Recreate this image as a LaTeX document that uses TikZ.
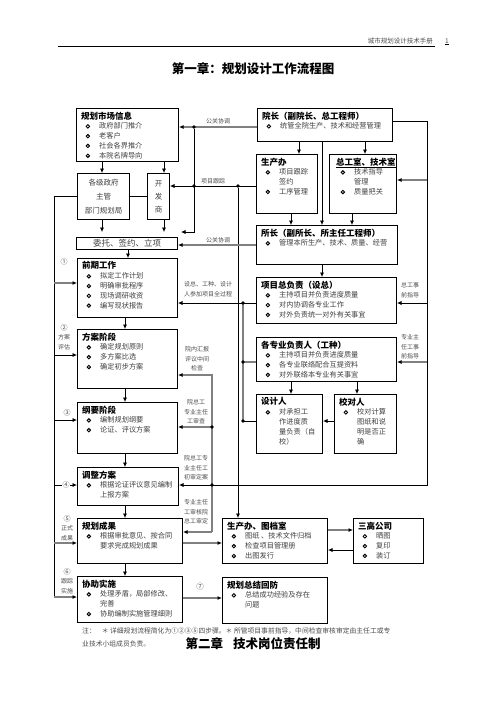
\documentclass[tikz,border=0pt]{standalone}
\usepackage{fontspec}
\setmainfont{Noto Sans CJK SC}
\usetikzlibrary{arrows.meta}

% box title and bullet lines
\newcommand\ttl[1]{{\fontsize{8.5}{9.8}\selectfont\bfseries\color{black}#1}}
\newcommand\ring{\tikz[baseline=-2.5pt]\draw[line width=0.95pt, black] (0,0) circle (1.7pt);}
\newcommand\itm{\makebox[18pt][l]{\hspace*{4.5pt}\ring}}
\newcommand\cnt{\hspace*{18pt}}

\tikzset{
	box/.style={draw, line width=1pt, anchor=north west, inner sep=0pt},
	txt/.style={anchor=north west, inner sep=0pt, align=left, font=\fontsize{7.2}{9.8}\selectfont, text=black!75},
	lbl/.style={inner sep=0pt, align=center, font=\fontsize{6}{9.6}\selectfont, text=black!70},
	arr/.style={-{Latex[length=4.5pt,width=4pt]}, line width=0.7pt},
	garr/.style={-{Latex[length=4.5pt,width=4pt,black]}, line width=1.8pt, draw=black!50},
	gline/.style={line width=1.8pt, draw=black!50},
	dot/.style={circle, fill=black, inner sep=0pt, minimum size=3.6pt},
}

\begin{document}
\begin{tikzpicture}[x=1pt,y=-1pt]
	\fill[white] (0,0) rectangle (496,702);
	\useasboundingbox (0,0) rectangle (496,702);

	% header and title
	\draw[line width=0.8pt] (58,46)--(435,46);
	\node[lbl, anchor=south east, font=\fontsize{6.5}{8}\selectfont] (hd) at (433,44){城市规划设计技术手册};
	\node[lbl, anchor=south, font=\fontsize{6.5}{8}\selectfont] (pg) at (447,44){1};
	\draw[line width=0.6pt] (pg.south west)--(pg.south east);
	\node[font=\fontsize{12.5}{14}\selectfont\bfseries] (t1) at (253,69){第一章：规划设计工作流程图};

	% left column
	\node[box, minimum width=102pt, minimum height=53pt] at (76,108)(sc){};
	\node[txt] at ([shift={(5,3.5)}]sc.north west)(sc-t){\ttl{规划市场信息}\\ \itm 政府部门推介\\ \itm 老客户\\ \itm 社会各界推介\\ \itm 本院名牌导向};
	\node[box, minimum width=52pt, minimum height=46pt, align=center, font=\fontsize{7.5}{14}\selectfont, text=black!75] at (77,173)(gov){各级政府\\主管\\部门规划局};
	\node[box, minimum width=22pt, minimum height=46pt, align=center, font=\fontsize{7.5}{13}\selectfont, text=black!75] at (147,173)(dev){开\\发\\商};
	\node[box, minimum width=101pt, minimum height=12pt, font=\fontsize{8.5}{10}\selectfont, text=black!75] at (76,237)(sign){委托、签约、立项};
	\node[box, minimum width=100pt, minimum height=59pt] at (77,258)(pre){};
	\node[txt] at ([shift={(5,3.5)}]pre.north west)(pre-t){\ttl{前期工作}\\ \itm 拟定工作计划\\ \itm 明确审批程序\\ \itm 现场调研收资\\ \itm 编写现状报告};
	\node[box, minimum width=100pt, minimum height=59pt] at (77,329)(fa){};
	\node[txt] at ([shift={(5,3.5)}]fa.north west)(fa-t){\ttl{方案阶段}\\ \itm 确定规划原则\\ \itm 多方案比选\\ \itm 确定初步方案};
	\node[box, minimum width=100pt, minimum height=51pt] at (77,402)(gy){};
	\node[txt] at ([shift={(5,3.5)}]gy.north west)(gy-t){\ttl{纲要阶段}\\ \itm 编制规划纲要\\ \itm 论证、评议方案};
	\node[box, minimum width=101pt, minimum height=38pt] at (77,467)(tz){};
	\node[txt] at ([shift={(5,3.5)}]tz.north west)(tz-t){\ttl{调整方案}\\ \itm 根据论证评议意见编制\\ \cnt 上报方案};
	\node[box, minimum width=105pt, minimum height=45pt] at (77,518)(cg){};
	\node[txt] at ([shift={(5,3.5)}]cg.north west)(cg-t){\ttl{规划成果}\\ \itm 根据审批意见、按合同\\ \cnt 要求完成规划成果};
	\node[box, minimum width=105pt, minimum height=46pt] at (77,576)(xz){};
	\node[txt] at ([shift={(5,3.5)}]xz.north west)(xz-t){\ttl{协助实施}\\ \itm 处理矛盾，局部修改、\\ \cnt 完善\\ \itm 协助编制实施管理细则};

	% middle column
	\node[box, minimum width=135pt, minimum height=33pt] at (257,108)(yz){};
	\node[txt] at ([shift={(5,3.5)}]yz.north west)(yz-t){\ttl{院长（副院长、总工程师）}\\ \itm 统管全院生产、技术和经营管理};
	\node[box, minimum width=61pt, minimum height=59pt] at (256,154)(scb){};
	\node[txt] at ([shift={(5,3.5)}]scb.north west)(scb-t){\ttl{生产办}\\ \itm 项目跟踪\\ \cnt 签约\\ \itm 工序管理};
	\node[box, minimum width=67pt, minimum height=59pt] at (329,154)(zgs){};
	\node[txt] at ([shift={(7,3.5)}]zgs.north west)(zgs-t){\ttl{\underline{总工室、技术室}}\\ \itm 技术指导\\ \cnt 管理\\ \itm 质量把关};
	\node[box, minimum width=141pt, minimum height=39pt] at (256,225)(sz){};
	\node[txt] at ([shift={(5,3.5)}]sz.north west)(sz-t){\ttl{所长（副所长、所主任工程师）}\\ \itm 管理本所生产、技术、质量、经营};
	\node[box, minimum width=140pt, minimum height=46pt] at (256,277)(xm){};
	\node[txt] at ([shift={(5,3.5)}]xm.north west)(xm-t){\ttl{项目总负责（设总）}\\ \itm 主持项目并负责进度质量\\ \itm 对内协调各专业工作\\ \itm 对外负责统一对外有关事宜};
	\node[box, minimum width=140pt, minimum height=44pt] at (256,337)(gzy){};
	\node[txt] at ([shift={(5,3.5)}]gzy.north west)(gzy-t){\ttl{各专业负责人（工种）}\\ \itm 主持项目并负责进度质量\\ \itm 各专业联络配合互提资料\\ \itm 对外联络本专业有关事宜};
	\node[box, minimum width=66pt, minimum height=59pt] at (256,394)(sj){};
	\node[txt] at ([shift={(5,3.5)}]sj.north west)(sj-t){\ttl{设计人}\\ \itm 对承担工\\ \cnt 作进度质\\ \cnt 量负责（自\\ \cnt 校）};
	\node[box, minimum width=62pt, minimum height=59pt] at (334,394)(jd){};
	\node[txt] at ([shift={(5,3.5)}]jd.north west)(jd-t){\ttl{校对人}\\ \itm 校对计算\\ \cnt 图纸和说\\ \cnt 明是否正\\ \cnt 确};
	\node[box, minimum width=105pt, minimum height=45pt] at (222,518)(tds){};
	\node[txt] at ([shift={(5,3.5)}]tds.north west)(tds-t){\ttl{生产办、图档室}\\ \itm 图纸 、技术文件归档\\ \itm 检查项目管理册\\ \itm 出图发行};
	\node[box, minimum width=70pt, minimum height=45pt] at (353,518)(sg){};
	\node[txt] at ([shift={(5,3.5)}]sg.north west)(sg-t){\ttl{三高公司}\\ \itm 晒图\\ \itm 复印\\ \itm 装订};
	\node[box, minimum width=105pt, minimum height=46pt] at (222,577)(zj){};
	\node[txt] at ([shift={(5,3.5)}]zj.north west)(zj-t){\ttl{规划总结回防}\\ \itm 总结成功经验及存在\\ \cnt 问题};

	% market info to clients and contract
	\draw[arr] (sc.south -| 102,0)--(gov.north -| 102,0);
	\draw[arr] (sc.south -| 164,0)--(dev.north -| 164,0);
	\draw[arr, shorten >=5pt] (gov.south -| 102,0)--(sign.north -| 102,0);
	\draw[arr, shorten >=5pt] (dev.south -| 164,0)--(sign.north -| 164,0);
	\draw[line width=0.7pt] (gov.east)--(dev.west);
	\draw[garr] (yz.west |- 0,127)--(sc.east |- 0,127);
	\draw[arr] (scb.west |- 0,186)--(dev.east |- 0,186);
	\node[dot] at (194,127)(d1){};
	\node[dot] at (194,186)(d2){};
	\node[dot] at (238,186)(d3){};
	\draw[arr, shorten >=3pt] (d1)--(194,232)--(sign.east |- 0,232);
	\draw[arr] (d3)--(tds.north -| 238,0);
	\draw[garr] (sz.west |- 0,245)--(sign.east |- 0,245);
	\node[lbl] at (218,121)(l1){公关协调};
	\node[lbl] at (213,181)(l2){项目跟踪};
	\node[lbl] at (218,240)(l3){公关协调};

	% stages
	\draw[arr] (sign.south -| 128,0)--(pre.north -| 128,0);
	\draw[arr] (pre.south -| 125,0)--(fa.north -| 125,0);
	\draw[arr] (fa.south -| 125,0)--(gy.north -| 125,0);
	\draw[arr] (gy.south -| 125,0)--(tz.north -| 125,0);
	\draw[arr] (tz.south -| 125,0)--(cg.north -| 125,0);
	\draw[arr] (cg.south -| 125,0)--(xz.north -| 125,0);

	% left line with steps
	\draw[line width=0.7pt] (gov.west) -| (54,597);
	\draw[garr] (54,283)--(pre.west |- 0,283);
	\draw[arr] (54,355)--(fa.west |- 0,355);
	\draw[arr] (54,420)--(gy.west |- 0,420);
	\draw[arr] (54,485)--(tz.west |- 0,485);
	\draw[garr] (54,543)--(cg.west |- 0,543);
	\draw[garr] (54,597)--(xz.west |- 0,597);
	\node[lbl, font=\fontsize{7}{9.6}\selectfont] at (64,262)(n1){①};
	\node[lbl] at (64,337)(n2){{\fontsize{7}{9.6}\selectfont ②}\\方案\\评估};
	\node[lbl, font=\fontsize{7}{9.6}\selectfont] at (67,413)(n3){③};
	\node[lbl, font=\fontsize{7}{9.6}\selectfont, fill=white, inner sep=0.6pt] at (66,485)(n4){④};
	\node[lbl] at (67,528)(n5){{\fontsize{7}{9.6}\selectfont ⑤}\\正式\\成果};
	\node[lbl] at (67,581)(n6){{\fontsize{7}{9.6}\selectfont ⑥}\\跟踪\\实施};

	% reviews back to the stages
	\draw[garr] (212,532) |- (fa.east |- 0,375);
	\draw[garr] (212,427)--(gy.east |- 0,427);
	\draw[garr] (212,532)--(cg.east |- 0,532);
	\node[dot] at (212,427)(d8){};
	\node[lbl] at (208,289)(l4){设总、工种、设计\\人参加项目全过程};
	\node[lbl] at (197,359)(l5){院内汇报\\评议中间\\检查};
	\node[lbl] at (196,412)(l6){院总工\\专业主任\\工审查};
	\node[lbl] at (196,468)(l7){院总工专\\业主任工\\初审定案};
	\node[lbl] at (196,512)(l8){专业主任\\工审核院\\总工审定};

	% director chain
	\draw[arr] (yz.south -| 299,0)--(scb.north -| 299,0);
	\draw[arr] (yz.south -| 365,0)--(zgs.north -| 365,0);
	\draw[arr] (yz.south -| 322,0)--(sz.north -| 322,0);
	\draw[arr] (scb.south -| 291,0)--(sz.north -| 291,0);
	\draw[arr] (zgs.south -| 352,0)--(sz.north -| 352,0);
	\draw[arr] (sz.south -| 322,0)--(xm.north -| 322,0);
	\draw[arr] (gzy.south -| 291,0)--(sj.north -| 291,0);
	\draw[arr] (gzy.south -| 357,0)--(jd.north -| 357,0);
	\draw[arr] (jd.west |- 0,421)--(sj.east |- 0,421);

	% design team to early stage
	\draw[arr] (xm.west |- 0,303)--(pre.east |- 0,303);
	\draw[gline] (243,303)--(243,421);
	\draw[gline] (243,362)--(gzy.west |- 0,362);
	\draw[line width=0.7pt] (sj.west |- 0,421)--(243,421);
	\node[dot] at (243,303)(d4){};
	\node[dot] at (243,362)(d5){};
	\node[dot] at (243,421)(d6){};

	% outer line from the director
	\coordinate (rc) at (427,0);
	\draw[arr] (yz.east |- 0,121) -| (rc |- 0,485)--(tz.east |- 0,485);
	\node[dot] at (212,485)(d7){};
	\draw[garr] (rc |- 0,180)--(zgs.east |- 0,180);
	\draw[arr] (rc |- 0,303)--(xm.east |- 0,303);
	\draw[garr] (rc |- 0,362)--(gzy.east |- 0,362);
	\node[lbl] at (410,290)(l9){总工事\\前指导};
	\node[lbl] at (410,347)(l10){专业主\\任工事\\前指导};

	% results
	\draw[garr] (cg.east |- 0,543)--(tds.west |- 0,543);
	\draw[garr] (tds.east |- 0,530)--(sg.west |- 0,530);
	\draw[arr] (sg.west |- 0,550)--(tds.east |- 0,550);
	\draw[garr] (xz.east |- 0,598)--(zj.west |- 0,598);
	\node[lbl, font=\fontsize{7.5}{9}\selectfont] at (200,587)(n7){⑦};

	% footer
	\node[lbl, anchor=west, font=\fontsize{6.8}{9}\selectfont] at (82,631)(f1){注：\hspace{6pt}＊ 详细规划流程简化为①②③⑤四步骤。＊ 所管项目事前指导，中间检查审核审定由主任工或专};
	\node[lbl, anchor=west, font=\fontsize{6.8}{9}\selectfont] at (82,644)(f2){业技术小组成员负责。};
	\node[font=\fontsize{12.5}{14}\selectfont\bfseries] at (253,644)(t2){第二章\hspace{10pt}技术岗位责任制};
\end{tikzpicture}
\end{document}
